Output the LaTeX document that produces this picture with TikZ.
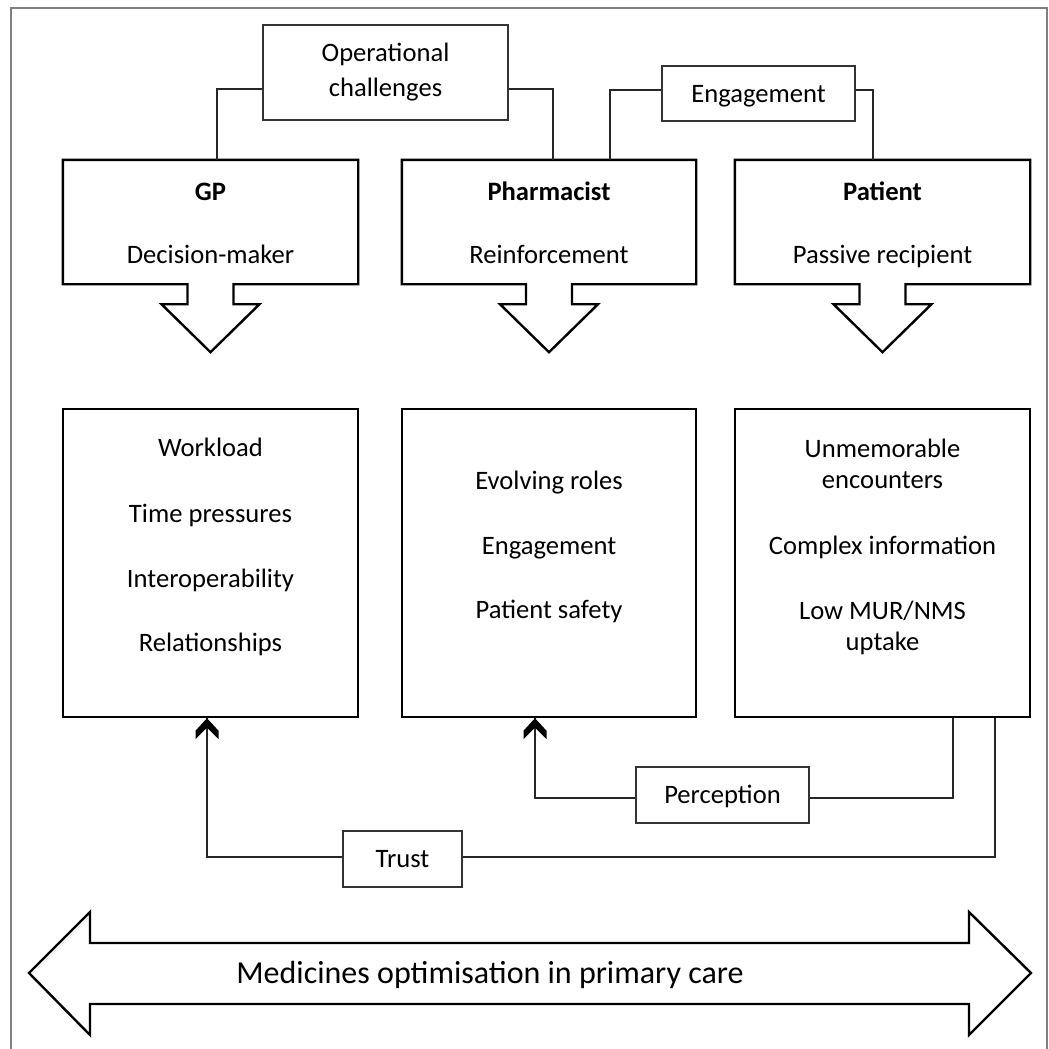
\documentclass[tikz,border=0pt]{standalone}
\usepackage{fontspec}
\setmainfont{Carlito}
\usetikzlibrary{calc}
\begin{document}
\begin{tikzpicture}[x=1pt,y=-1pt,
  thickline/.style={line width=2.4pt,line join=miter},
  thinline/.style={line width=1.2pt,draw=black!85},
  boxarea/.style={inner sep=0pt,minimum width=#1},
  labelbox/.style={draw=black!80,line width=1.2pt,inner sep=0pt},
  txt/.style={inner sep=0pt,font=\fontsize{26.6}{31}\selectfont,text height=17.1pt,text depth=0pt,align=center},
  boldtxt/.style={txt,font=\fontsize{26.6}{31}\selectfont\bfseries},
  bigtxt/.style={inner sep=0pt,font=\fontsize{32}{38}\selectfont,text height=20.6pt,text depth=0pt},
  chev/.style={fill=black}
]
\useasboundingbox (0,0) rectangle (1049,1049);
\clip (0,0) rectangle (1049,1049);
% outer frame
\draw[line width=1.6pt,draw=black!50] (11,8) rectangle (1047,1056);

% upper boxes (areas)
\node[boxarea=295pt,minimum height=124pt] (gpu) at (210.5,222) {};
\node[boxarea=294pt,minimum height=124pt] (phu) at (549,222) {};
\node[boxarea=295pt,minimum height=124pt] (pau) at (882.5,222) {};
% callout outlines
\foreach \b in {gpu,phu,pau}{
  \draw[thickline] (\b.north west) -- (\b.north east) -- (\b.south east)
    -- ($(\b.south)+(23,0)$) -- ($(\b.south)+(23,20)$) -- ($(\b.south)+(49,20)$)
    -- ($(\b.south)+(0,68)$) -- ($(\b.south)+(-49,20)$) -- ($(\b.south)+(-23,20)$)
    -- ($(\b.south)+(-23,0)$) -- (\b.south west) -- cycle;
}
\node[boldtxt] (gpt) at (210.5,192) {GP};
\node[txt] (gpr) at (210.5,255) {Decision-maker};
\node[boldtxt] (pht) at (549,192) {Pharmacist};
\node[txt] (phr) at (549,255) {Reinforcement};
\node[boldtxt] (pat) at (882.5,192) {Patient};
\node[txt] (par) at (882.5,255) {Passive recipient};

% lower boxes
\node[draw,thickline,inner sep=0pt,minimum width=295pt,minimum height=308pt] (gpl) at (210.5,563) {};
\node[draw,thickline,inner sep=0pt,minimum width=294pt,minimum height=308pt] (phl) at (549,563) {};
\node[draw,thickline,inner sep=0pt,minimum width=295pt,minimum height=308pt] (pal) at (882.5,563) {};

\node[txt] (g1) at (210.5,448) {Workload};
\node[txt] (g2) at (210.5,514) {Time pressures};
\node[txt] (g3) at (210.5,579) {Interoperability};
\node[txt] (g4) at (210.5,643) {Relationships};

\node[txt] (p1) at (549,481) {Evolving roles};
\node[txt] (p2) at (549,546) {Engagement};
\node[txt] (p3) at (549,610) {Patient safety};

\node[txt] (q1) at (882.5,449) {Unmemorable};
\node[txt] (q2) at (882.5,480) {encounters};
\node[txt] (q3) at (882.5,546) {Complex information};
\node[txt] (q4) at (882.5,611) {Low MUR/NMS};
\node[txt] (q5) at (882.5,642) {uptake};

% top label boxes
\node[labelbox,minimum width=245pt,minimum height=95pt] (oc) at (385.5,72.5) {};
\node[txt] (oc1) at (385.5,53) {Operational};
\node[txt] (oc2) at (385.5,88) {challenges};
\node[labelbox,minimum width=193pt,minimum height=55pt] (eng) at (758.5,93.5) {};
\node[txt] (engt) at (758.5,94) {Engagement};

\draw[thinline] ([yshift=-16.5pt]oc.west) -| ([xshift=6.5pt]gpu.north);
\draw[thinline] ([yshift=-16.5pt]oc.east) -| ([xshift=4pt]phu.north);
\draw[thinline] ([yshift=3.5pt]eng.west) -| ([xshift=61pt]phu.north);
\draw[thinline] ([yshift=3.5pt]eng.east) -| ([xshift=-9.5pt]pau.north);

% bottom label boxes
\node[labelbox,minimum width=119pt,minimum height=56pt] (trust) at (402.5,859) {};
\node[txt] (trustt) at (402.5,859) {Trust};
\node[labelbox,minimum width=173pt,minimum height=56pt] (perc) at (722.5,795) {};
\node[txt] (perct) at (722.5,795) {Perception};

\coordinate (gptip) at ([xshift=-3.5pt]gpl.south);
\coordinate (phtip) at ([xshift=-14pt]phl.south);
\draw[thinline] ([yshift=2pt]trust.west) -| (gptip);
\draw[thinline] ([yshift=2pt]trust.east) -| ([xshift=112.5pt]pal.south);
\draw[thinline] ([yshift=-3pt]perc.west) -| (phtip);
\draw[thinline] ([yshift=-3pt]perc.east) -| ([xshift=70.5pt]pal.south);
\foreach \t in {gptip,phtip}{
  \fill[chev] (\t) -- ++(-11.5,12.5) -- ++(0,8.5) -- ++(11.5,-11.5) -- ++(11.5,11.5) -- ++(0,-8.5) -- cycle;
}

% big double arrow
\coordinate (la) at (29,973);
\coordinate (ra) at (1031,973);
\draw[thickline] (la) -- (90,912) -- (90,943) -- (969,943) -- (969,912) -- (ra)
  -- (969,1035) -- (969,1004) -- (90,1004) -- (90,1035) -- cycle;
\node[bigtxt] (mo) at (490,973) {Medicines optimisation in primary care};
\end{tikzpicture}
\end{document}
